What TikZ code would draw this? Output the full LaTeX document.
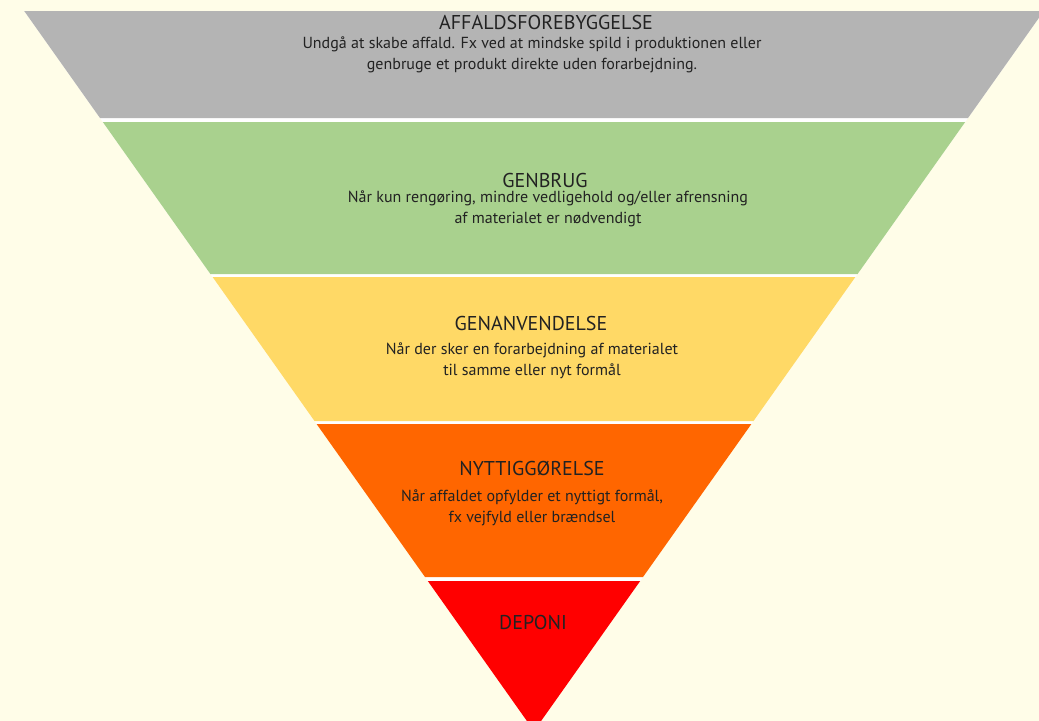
\documentclass[tikz,border=0pt]{standalone}
\usepackage{fontspec}
\setmainfont{PT Sans}
\definecolor{bgc}{HTML}{FFFDE8}
\definecolor{grayband}{HTML}{B4B4B4}
\definecolor{greenband}{HTML}{A9D18E}
\definecolor{yellowband}{HTML}{FFD966}
\definecolor{orangeband}{HTML}{FF6600}
\definecolor{redband}{HTML}{FF0000}
\definecolor{txt}{HTML}{222222}
\tikzset{
  band/.style={draw=none},
  title/.style={text=txt, font=\fontsize{15}{18}\selectfont, inner sep=0pt, anchor=center},
  desc/.style={text=txt, font=\fontsize{12}{15.75}\selectfont, inner sep=0pt, align=center, anchor=center},
}
\begin{document}
\begin{tikzpicture}[x=0.75pt,y=-0.75pt]
\useasboundingbox (0,0) rectangle (1039,721);
\fill[bgc] (0,0) rectangle (1039,721);
\clip (0,0) rectangle (1039,721);
\fill[white] (24.2,11) -- (1043.8,11) -- (534,731) -- cycle;
\fill[grayband]   (24.2,11)  -- (1043.8,11) -- (968.0,118) -- (100.0,118) -- cycle;
\fill[greenband]  (102.8,122) -- (965.2,122) -- (857.6,274) -- (210.4,274) -- cycle;
\fill[yellowband] (212.6,277) -- (855.4,277) -- (753.5,421) -- (314.5,421) -- cycle;
\fill[orangeband] (316.6,424) -- (751.4,424) -- (643.0,577) -- (425.0,577) -- cycle;
\fill[redband]    (427.8,581) -- (640.2,581) -- (534,731) -- cycle;

\node[title] (t1) at (546,22) {AFFALDSFOREBYGGELSE};
\node[desc] (d1) at (532,54.5) {Undgå at skabe affald. Fx ved at mindske spild i produktionen eller\\genbruge et produkt direkte uden forarbejdning.};

\node[title] (t2) at (545,180) {GENBRUG};
\node[desc] (d2) at (548,208.5) {Når kun rengøring, mindre vedligehold og/eller afrensning\\af materialet er nødvendigt};

\node[title] (t3) at (531,323) {GENANVENDELSE};
\node[desc] (d3) at (532,360.5) {Når der sker en forarbejdning af materialet\\til samme eller nyt formål};

\node[title] (t4) at (532,468) {NYTTIGGØRELSE};
\node[desc] (d4) at (532,507.5) {Når affaldet opfylder et nyttigt formål,\\fx vejfyld eller brændsel};

\node[title] (t5) at (533,622) {DEPONI};
\end{tikzpicture}
\end{document}
